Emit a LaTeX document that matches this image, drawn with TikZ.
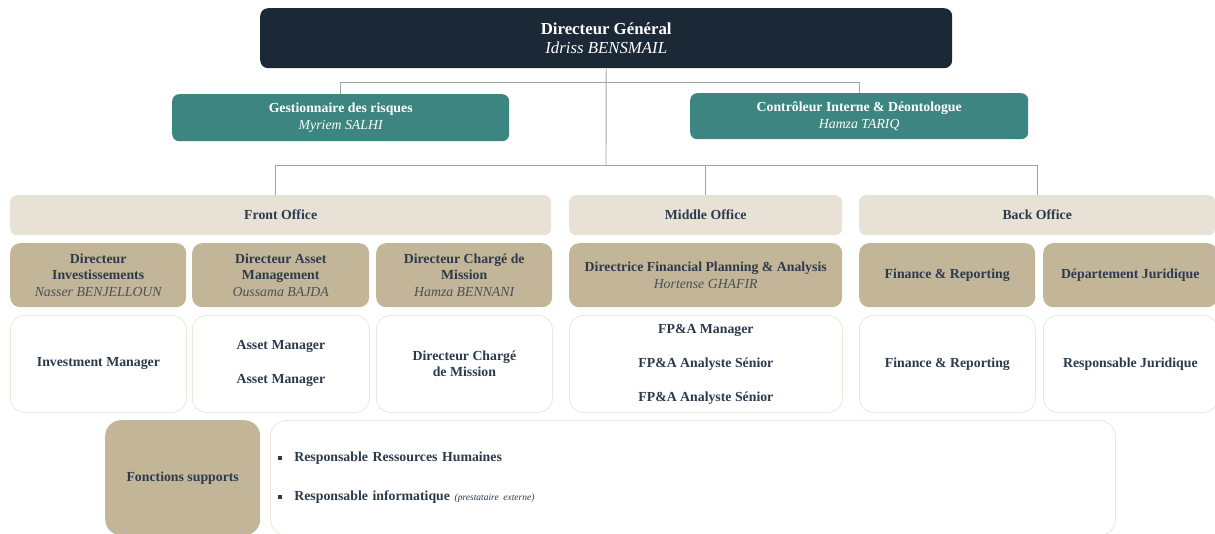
\documentclass[tikz,border=0pt]{standalone}
\usepackage{fontspec}
\setmainfont{Liberation Serif}
\definecolor{navy}{HTML}{1B2937}
\definecolor{teal}{HTML}{3D8580}
\definecolor{lbeige}{HTML}{E8E2D6}
\definecolor{tan}{HTML}{C3B597}
\definecolor{wborder}{HTML}{EDE7DA}
\definecolor{txt}{HTML}{2C3A4E}
\definecolor{nametxt}{HTML}{4A4F58}
\definecolor{conn}{HTML}{A3A3A3}
\tikzset{
  base/.style={anchor=north west, inner sep=0pt, align=center, text=txt,
    font=\bfseries\fontsize{13.8}{16.5}\selectfont},
  topbox/.style={base, fill=navy, rounded corners=8pt, text=white,
    font=\bfseries\fontsize{16.8}{19}\selectfont},
  tealbox/.style={base, fill=teal, rounded corners=7pt, text=white,
    font=\bfseries\fontsize{13.8}{17}\selectfont},
  officebox/.style={base, fill=lbeige, rounded corners=7pt},
  dirbox/.style={base, fill=tan, rounded corners=10pt},
  whitebox/.style={base, fill=white, draw=wborder, line width=0.8pt, rounded corners=14pt},
  linkline/.style={draw=conn, line width=0.9pt}
}
\newcommand{\pname}[1]{{\mdseries\itshape\color{nametxt}#1}}
\newcommand{\wname}[1]{{\mdseries\itshape #1}}
\newcommand{\sqbullet}{\raisebox{2pt}{\rule{4pt}{4pt}}\hspace{12pt}}
\begin{document}
\begin{tikzpicture}[x=1pt,y=-1pt]
\useasboundingbox (0,0) rectangle (1215,533);
\fill[white] (0,0) rectangle (1215,533);

% top
\node[topbox, minimum width=692pt, minimum height=60pt] (dg) at (260,8)
  {Directeur Général\\\wname{Idriss BENSMAIL}};
\node[tealbox, minimum width=337pt, minimum height=47pt] (risk) at (172,94)
  {Gestionnaire des risques\\\wname{Myriem SALHI}};
\node[tealbox, minimum width=338pt, minimum height=46pt] (ctrl) at (690,93)
  {Contrôleur Interne \& Déontologue\\\wname{Hamza TARIQ}};

% offices
\node[officebox, minimum width=541pt, minimum height=40pt] (front) at (10,195) {Front Office};
\node[officebox, minimum width=273pt, minimum height=40pt] (middle) at (569,195) {Middle Office};
\node[officebox, minimum width=356pt, minimum height=40pt] (back) at (859,195) {Back Office};

% directors
\node[dirbox, minimum width=176pt, minimum height=64pt] (d1) at (10,243)
  {Directeur\\Investissements\\\pname{Nasser BENJELLOUN}};
\node[dirbox, minimum width=177pt, minimum height=64pt] (d2) at (192,243)
  {Directeur Asset\\Management\\\pname{Oussama BAJDA}};
\node[dirbox, minimum width=176pt, minimum height=64pt] (d3) at (376,243)
  {Directeur Chargé de\\Mission\\\pname{Hamza BENNANI}};
\node[dirbox, minimum width=273pt, minimum height=64pt] (d4) at (569,243)
  {Directrice Financial Planning \& Analysis\\\pname{Hortense GHAFIR}};
\node[dirbox, minimum width=176pt, minimum height=64pt] (d5) at (859,243)
  {Finance \& Reporting};
\node[dirbox, minimum width=174pt, minimum height=64pt] (d6) at (1043,243)
  {Département Juridique};

% staff
\node[whitebox, minimum width=176pt, minimum height=97pt] (s1) at (10,315)
  {Investment Manager};
\node[whitebox, minimum width=177pt, minimum height=97pt] (s2) at (192,315)
  {Asset Manager\\[17.5pt]Asset Manager};
\node[whitebox, minimum width=176pt, minimum height=97pt] (s3) at (376,315)
  {Directeur Chargé\\de Mission};
\node[whitebox, minimum width=273pt, minimum height=97pt] (s4) at (569,315)
  {FP\&A Manager\\[17.5pt]FP\&A Analyste Sénior\\[17.5pt]FP\&A Analyste Sénior};
\node[whitebox, minimum width=176pt, minimum height=97pt] (s5) at (859,315)
  {Finance \& Reporting};
\node[whitebox, minimum width=174pt, minimum height=97pt] (s6) at (1043,315)
  {Responsable Juridique};

% support functions
\node[dirbox, rounded corners=16pt, minimum width=155pt, minimum height=115pt] (sup) at (105,420)
  {Fonctions supports};
\node[whitebox, rounded corners=16pt, minimum width=845pt, minimum height=115pt,
  text width=829pt, align=left, inner xsep=8pt] (supw) at (270,420)
  {\sqbullet Responsable Ressources Humaines\\[22.5pt]
   \sqbullet Responsable informatique {\mdseries\itshape\fontsize{9.5}{12}\selectfont (prestataire externe)}};

% connectors
\coordinate (j1) at (606,82);
\coordinate (j2) at (606,165);
\draw[linkline] (dg.south) -- (j2);
\draw[linkline] (risk.north) -- (risk.north |- j1) -- (ctrl.north |- j1) -- (ctrl.north);
\draw[linkline] ([xshift=-5pt]front.north) -- ([xshift=-5pt]front.north |- j2) -- (back.north |- j2) -- (back.north);
\draw[linkline] (middle.north |- j2) -- (middle.north);
\end{tikzpicture}
\end{document}
